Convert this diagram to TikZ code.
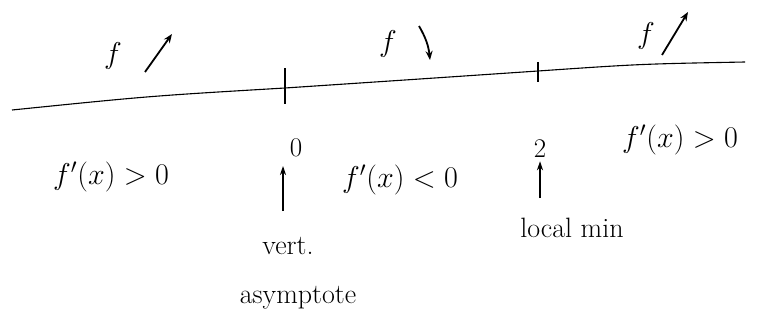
\documentclass[tikz,border=0pt]{standalone}
\usepackage{amsmath,amssymb}
\usepackage{tikz}
\usetikzlibrary{arrows.meta, positioning, calc}
\tikzset{
  numline/.style={line width=1.1pt, black},
  tick/.style={line width=1.1pt, black},
  lbl/.style={font=\huge, scale=1.45, inner sep=1pt},
  note/.style={font=\fontsize{28}{32}\selectfont, inner sep=1pt},
  small/.style={font=\huge, scale=1.3, inner sep=1pt},
  trend/.style={-{Stealth[length=9pt,width=7pt]}, line width=1.8pt, black},
  pointer/.style={-{Stealth[length=9pt,width=6pt]}, line width=1.4pt, black},
}
\begin{document}
\begin{tikzpicture}[x=1pt, y=-1pt]
  \useasboundingbox (0,0) rectangle (757,329);
  % number line, slightly rising to the right
  \coordinate (lineL) at (12,110);
  \coordinate (zero) at (285,88);
  \coordinate (two) at (538,71);
  \coordinate (lineR) at (745,62);
  \draw[numline] (lineL) .. controls (150,96) .. (zero)
    .. controls (420,79) .. (two) .. controls (640,64) .. (lineR);
  \draw[tick] ($(zero)+(0,-20)$) -- ($(zero)+(0,16)$);
  \draw[tick] ($(two)+(0,-9)$) -- ($(two)+(0,11)$);
  % increasing / decreasing above the line
  \node[lbl] (fA) at (113,56) {$f$};
  \coordinate (upAs) at (145,72);
  \coordinate (upAe) at (172,34);
  \draw[trend] (upAs) -- (upAe);
  \node[lbl] (fB) at (388,44) {$f$};
  \coordinate (dnBs) at (419,26);
  \coordinate (dnBe) at (430,60);
  \draw[trend] (dnBs) to[bend left=12] (dnBe);
  \node[lbl] (fC) at (646,36) {$f$};
  \coordinate (upCs) at (662,55);
  \coordinate (upCe) at (688,12);
  \draw[trend] (upCs) -- (upCe);
  % sign of f' below the line
  \node[lbl] (signA) at (111,177) {$f'(x)>0$};
  \node[small] (zeroLbl) at (296,148) {$0$};
  \node[lbl] (signB) at (400,180) {$f'(x)<0$};
  \node[small] (twoLbl) at (540,149) {$2$};
  \node[lbl] (signC) at (680,140) {$f'(x)>0$};
  % notes
  \node[note] (vert) at (288,246) {vert.};
  \node[note] (asym) at (298,298) {asymptote};
  \node[note] (locmin) at (572,228) {local min};
  \coordinate (vertTop) at (283,211);
  \coordinate (vertTip) at (283,166);
  \coordinate (minTop) at (540,198);
  \draw[pointer] (vertTop) -- (vertTip);
  \draw[pointer] (minTop) -- ([yshift=-2pt]twoLbl.south);
\end{tikzpicture}
\end{document}
